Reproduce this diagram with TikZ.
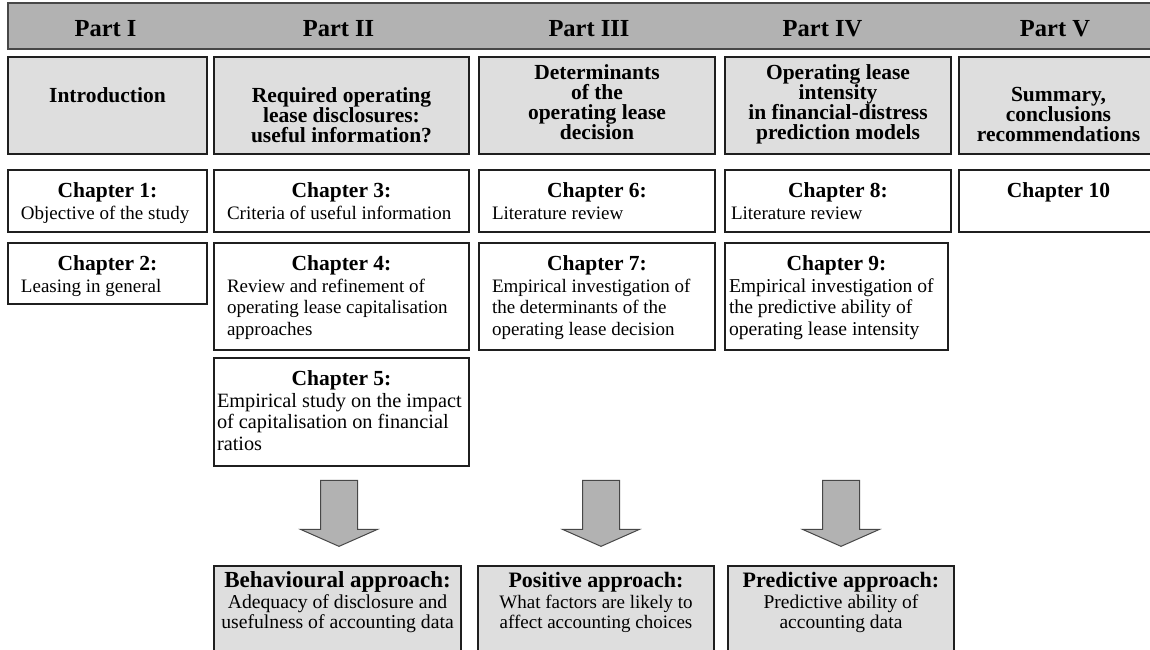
\documentclass[tikz,border=0pt]{standalone}
\usepackage{fontspec}
\setmainfont{Liberation Serif}

\definecolor{barfill}{gray}{0.70}
\definecolor{hdrfill}{gray}{0.87}
\definecolor{edge}{gray}{0.12}
\definecolor{arrowedge}{gray}{0.28}

\newcommand\partfont{\fontsize{24.5}{28}\selectfont\bfseries}
\newcommand\hdrfont{\fontsize{21.5}{19.9}\selectfont\bfseries}
\newcommand\chapfont{\fontsize{21.5}{24}\selectfont\bfseries}

% grey heading panel: width, height, top gap, lines
\newcommand\hdrtext[4]{\parbox[c][#2][t]{#1}{\vspace*{#3}\centering\hdrfont #4\par}}
% chapter panel: width, height, left margin, body size, title, body
\newcommand\chaptext[6]{\parbox[c][#2][t]{#1}{\vspace*{10.2pt}\centering\chapfont\strut #5\par
  \vspace{0.5pt}\raggedright\leftskip=#3\relax\fontsize{#4}{21.6}\selectfont\mdseries #6\par}}
% approach panel: width, top gap, title size, body size, title, body
\newcommand\apptext[6]{\parbox[c][100pt][t]{#1}{\vspace*{#2}\centering\fontsize{#3}{20.5}\selectfont\bfseries\strut #5\par
  \fontsize{#4}{20.5}\selectfont\mdseries #6\par}}

\tikzset{
  bar/.style={draw=arrowedge, fill=barfill, line width=1.2pt, inner sep=0pt,
    minimum width=1157pt, minimum height=46pt},
  hdrbox/.style={draw=edge, fill=hdrfill, line width=1.3pt, inner sep=0pt},
  chapbox/.style={draw=edge, fill=white, line width=1.3pt, inner sep=0pt},
  appbox/.style={draw=edge, fill=hdrfill, line width=1.3pt, inner sep=0pt},
  partlabel/.style={font=\partfont, anchor=base, inner sep=0pt},
  blockarrow/.style={draw=arrowedge, fill=barfill, line width=1pt, line join=miter},
}

\begin{document}
\begin{tikzpicture}[x=1pt,y=-1pt]
\useasboundingbox (0,0) rectangle (1150,649);
\clip (0,0) rectangle (1150,649);

% top band with the part labels
\node[bar] (bar) at (586.5,26) {};
\node[partlabel] (p1) at (105.5,36.7) {Part I};
\node[partlabel] (p2) at (338.5,36.7) {Part II};
\node[partlabel] (p3) at (589,36.7) {Part III};
\node[partlabel] (p4) at (822.5,36.7) {Part IV};
\node[partlabel] (p5) at (1055,36.7) {Part V};

% part headings
\node[hdrbox] (h1) at (107.5,105.5) {\hdrtext{199pt}{97pt}{30.3pt}{Introduction}};
\node[hdrbox] (h2) at (341.5,105.5) {\hdrtext{255pt}{97pt}{30.3pt}{Required operating\\lease disclosures:\\useful information?}};
\node[hdrbox] (h3) at (597,105.5) {\hdrtext{236pt}{97pt}{8.0pt}{Determinants\\of the\\operating lease\\decision}};
\node[hdrbox] (h4) at (838,105.5) {\hdrtext{226pt}{97pt}{8.0pt}{Operating lease\\intensity\\in financial-distress\\prediction models}};
\node[hdrbox] (h5) at (1058.5,105.5) {\hdrtext{199pt}{97pt}{30.3pt}{Summary,\\conclusions\\recommendations}};

% chapters
\node[chapbox] (c1) at (107.5,201) {\chaptext{199pt}{62pt}{13pt}{19}{Chapter 1:}{Objective of the study}};
\node[chapbox] (c3) at (341.5,201) {\chaptext{255pt}{62pt}{13pt}{19}{Chapter 3:}{Criteria of useful information}};
\node[chapbox] (c6) at (597,201) {\chaptext{236pt}{62pt}{13pt}{19}{Chapter 6:}{Literature review}};
\node[chapbox] (c8) at (838,201) {\chaptext{226pt}{62pt}{6pt}{19}{Chapter 8:}{Literature review}};
\node[chapbox] (c10) at (1058.5,201) {\chaptext{199pt}{62pt}{0pt}{19}{Chapter 10}{}};

\node[chapbox] (c2) at (107.5,273.5) {\chaptext{199pt}{61pt}{13pt}{19}{Chapter 2:}{Leasing in general}};
\node[chapbox] (c4) at (341.5,296.5) {\chaptext{255pt}{107pt}{13pt}{19}{Chapter 4:}{Review and refinement of\\operating lease capitalisation\\approaches}};
\node[chapbox] (c7) at (597,296.5) {\chaptext{236pt}{107pt}{13pt}{19}{Chapter 7:}{Empirical investigation of\\the determinants of the\\operating lease decision}};
\node[chapbox] (c9) at (836.5,296.5) {\chaptext{223pt}{107pt}{4pt}{19.6}{Chapter 9:}{Empirical investigation of\\the predictive ability of\\operating lease intensity}};
\node[chapbox] (c5) at (341.5,412) {\chaptext{255pt}{108pt}{3pt}{20.3}{Chapter 5:}{Empirical study on the impact\\of capitalisation on financial\\ratios}};

% research approaches
\node[appbox] (b1) at (337.5,616) {\apptext{247pt}{5.7pt}{23}{19.7}{Behavioural approach:}{Adequacy of disclosure and\\usefulness of accounting data}};
\node[appbox] (b2) at (596,616) {\apptext{236pt}{6.6pt}{22}{19}{Positive approach:}{What factors are likely to\\affect accounting choices}};
\node[appbox] (b3) at (841,616) {\apptext{226pt}{6.6pt}{22}{19.5}{Predictive approach:}{Predictive ability of\\accounting data}};

% block arrows pointing down onto the approaches
\coordinate (t1) at ([xshift=1.5pt,yshift=19pt]b1.north);
\coordinate (t2) at ([xshift=5pt,yshift=19pt]b2.north);
\coordinate (t3) at ([xshift=0pt,yshift=19pt]b3.north);
\foreach \t in {t1,t2,t3}{
  \draw[blockarrow] (\t) -- ++(-38.5,-17) -- ++(20,0) -- ++(0,-49) -- ++(37,0)
    -- ++(0,49) -- ++(20,0) -- cycle;
}
\end{tikzpicture}
\end{document}
